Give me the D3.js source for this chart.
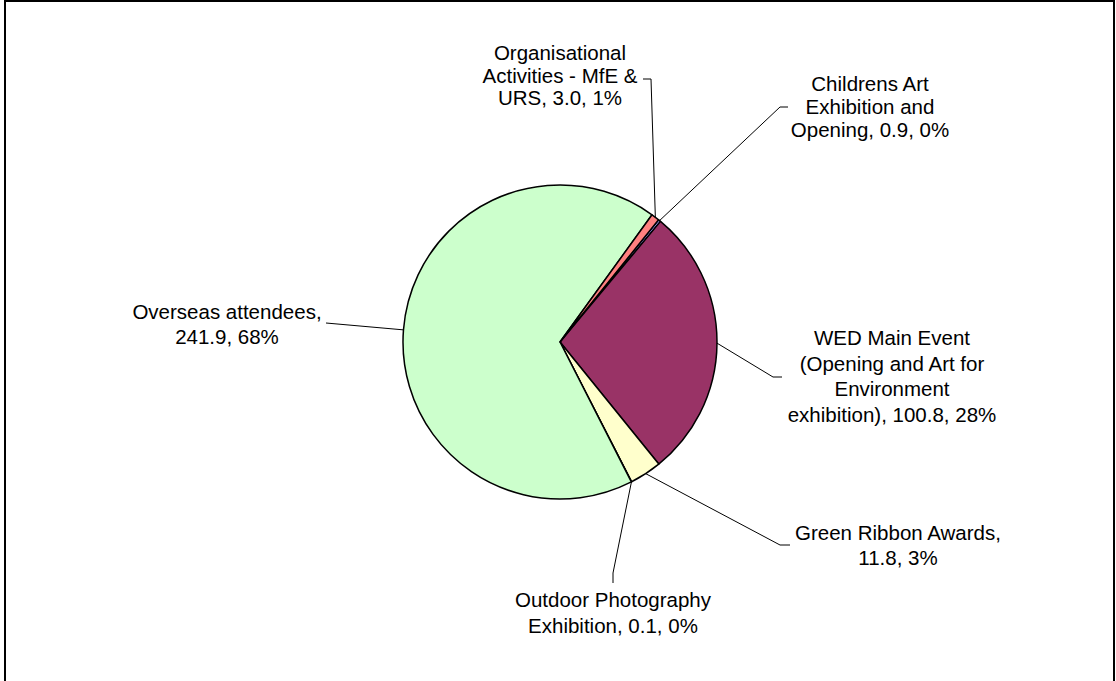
<!DOCTYPE html>
<html>
<head>
<meta charset="utf-8">
<script src="https://cdn.jsdelivr.net/npm/d3@7"></script>
<style>
  html, body { margin: 0; padding: 0; background: #fff; }
  svg { display: block; }
  text { font-family: "Liberation Sans", Arial, sans-serif; font-size: 20.5px; fill: #000; }
</style>
</head>
<body>
<svg id="chart" width="1116" height="681"></svg>
<script>
// Data (clockwise order as drawn)
const categories = [
  "Childrens Art Exhibition and Opening",
  "WED Main Event (Opening and Art for Environment exhibition)",
  "Green Ribbon Awards",
  "Outdoor Photography Exhibition",
  "Overseas attendees",
  "Organisational Activities - MfE & URS"
];
const values = [0.9, 100.8, 11.8, 0.1, 241.9, 3.0];
const percents = ["0%", "28%", "3%", "0%", "68%", "1%"];
const colors = ["#9999FF", "#993366", "#FFFFCC", "#CCFFFF", "#CCFFCC", "#FF8080"];
// label text lines
const labelLines = [
  ["Childrens Art", "Exhibition and", "Opening, 0.9, 0%"],
  ["WED Main Event", "(Opening and Art for", "Environment", "exhibition), 100.8, 28%"],
  ["Green Ribbon Awards,", "11.8, 3%"],
  ["Outdoor Photography", "Exhibition, 0.1, 0%"],
  ["Overseas attendees,", "241.9, 68%"],
  ["Organisational", "Activities - MfE &", "URS, 3.0, 1%"]
];

const W = 1116, H = 681;
const svg = d3.select("#chart");

// outer frame
svg.append("rect").attr("x", 5).attr("y", 1).attr("width", 1109).attr("height", 690)
  .attr("fill", "#fff").attr("stroke", "#000").attr("stroke-width", 2);

const cx = 560, cy = 342, r = 157;
const start = 38.9 * Math.PI / 180;
const pie = d3.pie().sort(null).value(d => d).startAngle(start).endAngle(start + 2 * Math.PI);
const arcs = pie(values);
const arc = d3.arc().innerRadius(0).outerRadius(r);

const g = svg.append("g").attr("transform", `translate(${cx},${cy})`);
g.selectAll("path.slice").data(arcs).enter().append("path")
  .attr("class", "slice")
  .attr("d", arc)
  .attr("fill", (d, i) => colors[i])
  .attr("stroke", "#000").attr("stroke-width", 1.5).attr("stroke-linejoin", "round");

// label layout: centre x, first baseline, line height, leader end (horizontal tick) points
const labelPos = [
  { x: 870, y: 91, lh: 23, leader: [[788, 107], [780, 107]] },
  { x: 892, y: 345, lh: 25.5, leader: [[782, 377], [773, 377]] },
  { x: 898, y: 540, lh: 25, leader: [[790, 545], [780, 545]] },
  { x: 613, y: 607, lh: 26, leader: [[613, 583], [613, 573]] },
  { x: 227, y: 319, lh: 25, leader: [[326, 323]] },
  { x: 560, y: 60, lh: 22.5, leader: [[643, 79], [651, 79]] }
];

const lineGen = d3.line();
arcs.forEach((a, i) => {
  const mid = (a.startAngle + a.endAngle) / 2;
  const px = cx + r * Math.sin(mid), py = cy - r * Math.cos(mid);
  const pts = labelPos[i].leader.concat([[px, py]]);
  svg.append("path").attr("d", lineGen(pts)).attr("fill", "none")
    .attr("stroke", "#000").attr("stroke-width", 1);
  const t = svg.append("text").attr("text-anchor", "middle");
  labelLines[i].forEach((ln, j) => {
    t.append("tspan").attr("x", labelPos[i].x).attr("y", labelPos[i].y + j * labelPos[i].lh).text(ln);
  });
});
</script>
</body>
</html>
